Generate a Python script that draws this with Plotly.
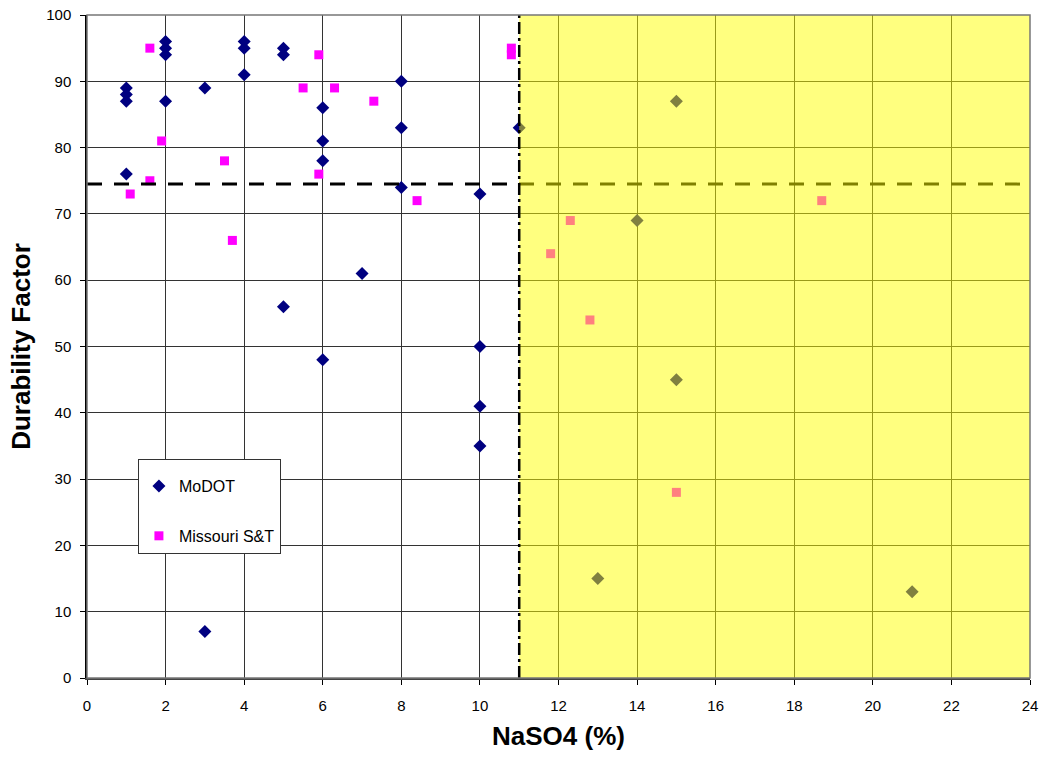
import plotly.graph_objects as go

modot_x = [1, 1, 1, 1, 2, 2, 2, 2, 3, 3, 4, 4, 4, 5, 5, 5, 6, 6, 6, 6, 7, 8, 8, 8,
           10, 10, 10, 10, 11, 13, 14, 15, 15, 21]
modot_y = [89, 88, 87, 76, 96, 95, 94, 87, 89, 7, 96, 95, 91, 95, 94, 56, 86, 81, 78, 48, 61, 90, 83, 74,
           73, 50, 41, 35, 83, 15, 69, 87, 45, 13]

mst_x = [1.6, 5.9, 5.5, 6.3, 7.3, 1.9, 3.5, 5.9, 1.6, 1.1, 8.4, 3.7, 10.8, 10.8,
         11.8, 12.3, 12.8, 15, 18.7]
mst_y = [95, 94, 89, 89, 87, 81, 78, 76, 75, 73, 72, 66, 95, 94,
         64, 69, 54, 28, 72]

df_threshold = 74.5
naso4_limit = 11
x_ticks = list(range(0, 25, 2))
y_ticks = list(range(0, 101, 10))

fig = go.Figure()
fig.add_trace(go.Scatter(x=modot_x, y=modot_y, mode="markers", name="MoDOT", legendgroup="a",
                         marker=dict(symbol="diamond", size=10, color="#000080")))
fig.add_trace(go.Scatter(x=mst_x, y=mst_y, mode="markers", name="Missouri S&T", legendgroup="b",
                         marker=dict(symbol="square", size=9, color="#FF00FF")))

fig.add_shape(type="line", x0=0, x1=24, y0=df_threshold, y1=df_threshold, xref="x", yref="y",
              line=dict(color="black", width=3, dash="15px,12px"), layer="above")
fig.add_shape(type="rect", x0=naso4_limit, x1=24, y0=0, y1=100, xref="x", yref="y",
              fillcolor="#FFFF00", opacity=0.5, line=dict(width=0), layer="above")
fig.add_shape(type="line", x0=naso4_limit, x1=naso4_limit, y0=0, y1=100, xref="x", yref="y",
              line=dict(color="black", width=2.5, dash="12px,4px,3px,4px"), layer="above")

font_family = "Liberation Sans, Arial, sans-serif"
fig.update_layout(
    width=1041, height=759,
    margin=dict(l=87, r=11, t=15, b=81, autoexpand=False),
    paper_bgcolor="white", plot_bgcolor="white",
    font=dict(family=font_family, size=15, color="black"),
    showlegend=True,
    legend=dict(x=0.054, y=0.3303, xanchor="left", yanchor="top",
                bgcolor="white", bordercolor="#333", borderwidth=1,
                font=dict(size=16), tracegroupgap=26, itemwidth=30,
                title=dict(text=" ", font=dict(size=7))),
    xaxis=dict(range=[0, 24], tickvals=x_ticks, showgrid=True, gridcolor="#333", gridwidth=1,
               showline=True, linecolor="#444", linewidth=2, mirror=False,
               ticks="outside", ticklen=5, tickcolor="black", ticklabelstandoff=8,
               ticklabeloverflow="allow",
               zeroline=False, automargin=False,
               title=dict(text="<b>NaSO4 (%)</b>", font=dict(size=26), standoff=14)),
    yaxis=dict(range=[0, 100], tickvals=y_ticks, showgrid=True, gridcolor="#333", gridwidth=1,
               showline=True, linecolor="black", linewidth=1.5,
               ticks="outside", ticklen=5, tickcolor="black", ticklabelstandoff=6,
               ticklabeloverflow="allow",
               zeroline=False, automargin=False,
               title=dict(text="<b>Durability Factor</b>", font=dict(size=26), standoff=8)),
)
# plot-area border on top and right
fig.add_shape(type="rect", x0=0, x1=1, y0=0, y1=1, xref="paper", yref="paper",
              line=dict(color="#777", width=1.5), fillcolor="rgba(0,0,0,0)", layer="above")

fig.write_html("out.html", config={"displayModeBar": False},
               post_script="document.body.style.margin='0';document.body.style.overflow='hidden';")
